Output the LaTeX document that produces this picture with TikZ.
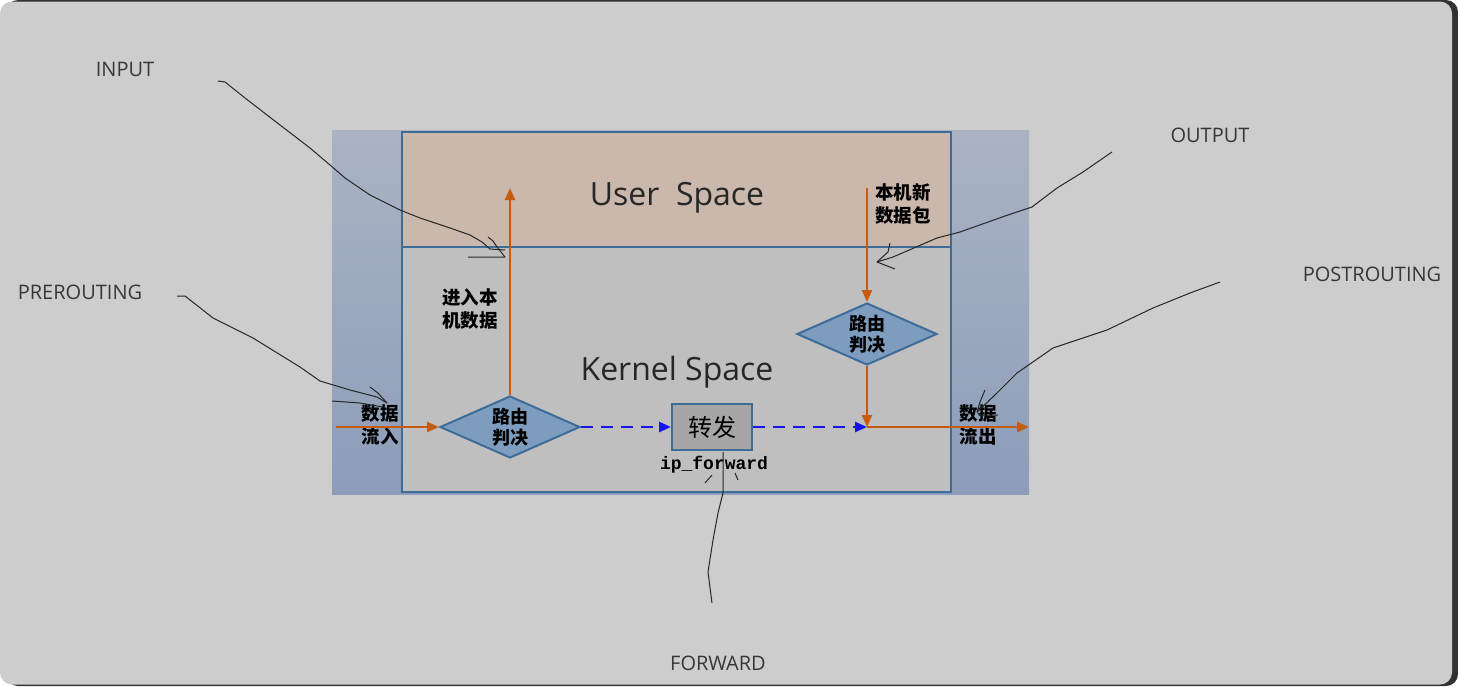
\documentclass[tikz,border=0pt]{standalone}
\usepackage{fontspec}
\setmainfont{Open Sans}
\newfontfamily\cjk{Noto Sans CJK SC}
\newfontfamily\monof{Liberation Mono}
\usetikzlibrary{shapes.geometric,arrows.meta}
\definecolor{bggray}{RGB}{205,205,205}
\definecolor{frame}{RGB}{50,50,50}
\definecolor{bandtop}{RGB}{170,179,196}
\definecolor{bandbot}{RGB}{141,157,185}
\definecolor{userfill}{RGB}{201,184,171}
\definecolor{kernfill}{RGB}{191,191,191}
\definecolor{edgeblue}{RGB}{62,108,152}
\definecolor{diafill}{RGB}{126,157,190}
\definecolor{boxgray}{RGB}{166,166,166}
\definecolor{orng}{RGB}{197,90,17}
\definecolor{fwdblue}{RGB}{20,20,235}
\definecolor{hookgray}{RGB}{55,55,55}

\begin{document}
\begin{tikzpicture}[x=1pt, y=-1pt,
  flow/.style={draw=orng, line width=2.5pt, -{Triangle[length=12pt,width=10pt]}},
  fwd/.style={draw=fwdblue, line width=2.5pt, dash pattern=on 12pt off 8pt, -{Triangle[length=12pt,width=10pt]}},
  space/.style={draw=edgeblue, line width=2pt, anchor=north west, inner sep=0pt},
  decide/.style={diamond, aspect=2.2, draw=edgeblue, line width=2pt, fill=diafill, minimum width=140pt, minimum height=62pt, inner sep=0pt, align=center, font=\cjk\bfseries\fontsize{18}{21}\selectfont},
  cjklab/.style={align=center, inner sep=0pt, font=\cjk\bfseries\fontsize{18.5}{23}\selectfont},
  hooklab/.style={text=hookgray, font=\fontsize{20}{20}\selectfont},
  bigtxt/.style={text=black!85, font=\fontsize{32}{32}\selectfont},
  pen/.style={draw=black!85, line width=1pt, line join=round}]
\useasboundingbox (0,0) rectangle (1458,686);
\fill[frame, rounded corners=12pt] (6,0) rectangle (1458,686);
\fill[bggray, rounded corners=12pt] (0,1.5) rectangle (1452,684.5);
\shade[top color=bandtop, bottom color=bandbot] (332,130) rectangle (1029,494);
\node[space, fill=userfill, minimum width=549pt, minimum height=115pt] (user) at (401,131) {};
\node[space, fill=kernfill, minimum width=549pt, minimum height=245pt] (kern) at (401,246) {};
\node[bigtxt] (usertxt) at (677,198) {User~ Space};
\node[bigtxt] (kerntxt) at (677,372) {Kernel Space};
\node[decide] (d1) at (510,427) {路由\\判决};
\node[decide] (d2) at (867,334) {路由\\判决};
\node[draw=edgeblue, line width=2pt, fill=boxgray, minimum width=80pt, minimum height=46pt, inner sep=0pt, font=\cjk\fontsize{24}{24}\selectfont] (fw) at (712,427) {转发};
\node[font=\monof\bfseries\fontsize{18}{18}\selectfont] (ipf) at (714,465) {ip\_forward};
\node[cjklab] (inlab) at (380,425) {数据\\流入};
\node[cjklab] (loclab) at (470,309) {进入本\\机数据};
\node[cjklab] (newlab) at (903,204) {本机新\\数据包};
\node[cjklab] (outlab) at (978,425) {数据\\流出};
\coordinate (in) at (336,427);
\coordinate (up) at (510,188);
\coordinate (new) at (867,188);
\coordinate (join) at (867,427);
\coordinate (out) at (1029,427);
\draw[flow] (in) to (d1.west);
\draw[flow] (d1.north) to (up);
\draw[flow] (new) to (d2.north);
\draw[flow] (d2.south) to (join);
\draw[flow] (join) to (out);
\draw[fwd] (d1.east) to (fw.west);
\draw[fwd] (fw.east) to (join);
\node[hooklab] (input) at (125,69) {INPUT};
\node[hooklab] (output) at (1210,135) {OUTPUT};
\node[hooklab] (pre) at (80,292) {PREROUTING};
\node[hooklab] (post) at (1372,274) {POSTROUTING};
\node[hooklab] (forward) at (718,663) {FORWARD};
\draw[pen] (218,81) -- (225,82) -- (245,98) -- (280,125) -- (310,148) -- (330,165) -- (345,178) -- (370,195) -- (400,210) -- (420,218) -- (450,228) -- (470,235) -- (482,242) -- (490,249) -- (505,250);
\draw[pen] (488,237) -- (493,241) -- (497,247) -- (505,257) -- (468,257);
\draw[pen] (177,296) -- (185,296) -- (213,318) -- (253,338) -- (300,367) -- (320,381) -- (350,390) -- (377,397) -- (387,403);
\draw[pen] (332,401) -- (360,403) -- (383,407);
\draw[pen] (370,387) -- (378,393) -- (387,403);
\draw[pen] (1112,152) -- (1083,172) -- (1057,188) -- (1032,207) -- (1005,216) -- (960,232) -- (937,238) -- (893,257) -- (877,262);
\draw[pen] (890,243) -- (888,252) -- (877,262) -- (895,269);
\draw[pen] (1220,282) -- (1190,293) -- (1153,308) -- (1107,330) -- (1053,348) -- (1017,373) -- (997,393) -- (977,412);
\draw[pen] (985,390) -- (980,402) -- (977,412) -- (980,415) -- (998,415);
\draw[pen] (712,603) -- (708,572) -- (713,540) -- (718,513) -- (723,493) -- (723,452);
\draw[pen] (705,483) -- (712,475);
\draw[pen] (735,473) -- (738,480);
\end{tikzpicture}
\end{document}
